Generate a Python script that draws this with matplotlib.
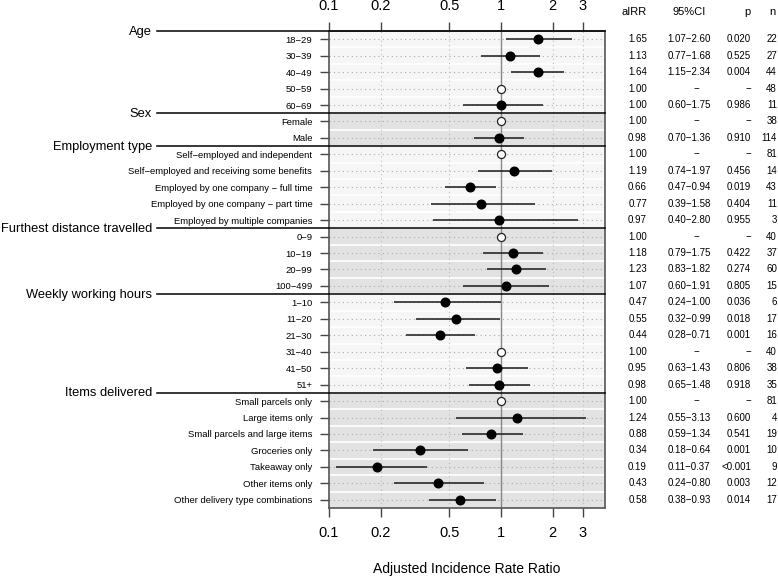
import numpy as np
import matplotlib
matplotlib.use('Agg')
import matplotlib.pyplot as plt
from matplotlib.transforms import blended_transform_factory
from matplotlib.lines import Line2D

plt.rcParams['font.family'] = ['Liberation Sans', 'DejaVu Sans']

groups = ['Age', 'Sex', 'Employment type', 'Furthest distance travelled',
          'Weekly working hours', 'Items delivered']
group_sizes = [5, 2, 5, 4, 6, 7]

row_labels = ['18\u221229', '30\u221239', '40\u221249', '50\u221259', '60\u221269',
              'Female', 'Male',
              'Self\u2212employed and independent',
              'Self\u2212employed and receiving some benefits',
              'Employed by one company \u2212 full time',
              'Employed by one company \u2212 part time',
              'Employed by multiple companies',
              '0\u22129', '10\u221219', '20\u221299', '100\u2212499',
              '1\u221210', '11\u221220', '21\u221230', '31\u221240', '41\u221250', '51+',
              'Small parcels only', 'Large items only', 'Small parcels and large items',
              'Groceries only', 'Takeaway only', 'Other items only',
              'Other delivery type combinations']

airr = [1.65, 1.13, 1.64, 1.00, 1.00,
        1.00, 0.98,
        1.00, 1.19, 0.66, 0.77, 0.97,
        1.00, 1.18, 1.23, 1.07,
        0.47, 0.55, 0.44, 1.00, 0.95, 0.98,
        1.00, 1.24, 0.88, 0.34, 0.19, 0.43, 0.58]
ci_low = [1.07, 0.77, 1.15, None, 0.60,
          None, 0.70,
          None, 0.74, 0.47, 0.39, 0.40,
          None, 0.79, 0.83, 0.60,
          0.24, 0.32, 0.28, None, 0.63, 0.65,
          None, 0.55, 0.59, 0.18, 0.11, 0.24, 0.38]
ci_high = [2.60, 1.68, 2.34, None, 1.75,
           None, 1.36,
           None, 1.97, 0.94, 1.58, 2.80,
           None, 1.75, 1.82, 1.91,
           1.00, 0.99, 0.71, None, 1.43, 1.48,
           None, 3.13, 1.34, 0.64, 0.37, 0.80, 0.93]
p_values = ['0.020', '0.525', '0.004', '\u2212', '0.986',
            '\u2212', '0.910',
            '\u2212', '0.456', '0.019', '0.404', '0.955',
            '\u2212', '0.422', '0.274', '0.805',
            '0.036', '0.018', '0.001', '\u2212', '0.806', '0.918',
            '\u2212', '0.600', '0.541', '0.001', '<0.001', '0.003', '0.014']
n_obs = [22, 27, 44, 48, 11,
         38, 114,
         81, 14, 43, 11, 3,
         40, 37, 60, 15,
         6, 17, 16, 40, 38, 35,
         81, 4, 19, 10, 9, 12, 17]

xticks = [0.1, 0.2, 0.5, 1, 2, 3]

W, H = 778, 577
fig = plt.figure(figsize=(W / 100, H / 100), dpi=100)
ax = fig.add_axes([329 / W, 1 - 508 / H, (605 - 329) / W, (508 - 31) / H])

nrow = len(row_labels)
y = np.arange(nrow)
ax.set_xscale('log')
ax.set_xlim(0.1, 4.03)
ax.set_ylim(nrow - 0.5, -0.5)

# group background bands
start = 0
starts = []
for gi, size in enumerate(group_sizes):
    starts.append(start)
    col = '#f6f6f6' if gi % 2 == 0 else '#e2e2e2'
    ax.axhspan(start - 0.5, start + size - 0.5, color=col, zorder=0, lw=0)
    start += size
for i in range(nrow - 1):
    ax.axhline(i + 0.5, color='white', lw=1.2, zorder=0.5)

# grid
for yi in y:
    ax.axhline(yi, color='#aaaaaa', lw=0.8, ls=(0, (1, 3)), zorder=1)
for xt in xticks[1:]:
    ax.axvline(xt, color='#bbbbbb', lw=0.8, ls=(0, (1, 3)), zorder=1)
ax.axvline(1, color='#888888', lw=1, zorder=2)

# estimates
for i in range(nrow):
    if ci_low[i] is None:
        ax.plot(airr[i], i, 'o', ms=5.8, mfc='white', mec='#222222', mew=0.9, zorder=4)
    else:
        ax.hlines(i, ci_low[i], ci_high[i], color='#2a2a2a', lw=1.2, zorder=3)
        ax.plot(airr[i], i, 'o', ms=6.2, color='black', zorder=4)

ax.set_xticks(xticks)
ax.set_xticklabels(['0.1', '0.2', '0.5', '1', '2', '3'])
ax.minorticks_off()
ax.tick_params(axis='x', which='both', top=True, labeltop=True, length=6.5,
               width=1, color='#444444', labelsize=10.5, pad=6.5)
ax.set_yticks(y)
ax.set_yticklabels(row_labels)
ax.tick_params(axis='y', length=6.5, width=1, color='#444444', labelsize=6.8, pad=5.5)
for s in ax.spines.values():
    s.set_color('#555555')
    s.set_linewidth(1.2)

ax.set_xlabel('Adjusted Incidence Rate Ratio', fontsize=10, labelpad=16)

# group headers with lines
tr = blended_transform_factory(fig.transFigure, ax.transData)
for gi, g in enumerate(groups):
    yb = starts[gi] - 0.5
    fig.text(152 / W, yb + 0.22, g, transform=tr, ha='right', va='baseline', fontsize=9.3)
    fig.add_artist(Line2D([157 / W, 605 / W], [yb, yb], transform=tr, color='black', lw=1.1))

# table
yh = -1.65
fig.text(647 / W, yh, 'aIRR', transform=tr, ha='right', va='center', fontsize=8)
fig.text(689 / W, yh, '95%CI', transform=tr, ha='center', va='center', fontsize=8)
fig.text(747 / W, yh, 'p', transform=tr, ha='center', va='center', fontsize=8)
fig.text(772 / W, yh, 'n', transform=tr, ha='center', va='center', fontsize=8)
for i in range(nrow):
    if ci_low[i] is None:
        ci_txt = '\u2212'
    else:
        ci_txt = '%.2f\u2212%.2f' % (ci_low[i], ci_high[i])
    fig.text(647 / W, i, '%.2f' % airr[i], transform=tr, ha='right', va='center', fontsize=7)
    fig.text(689 / W if ci_low[i] is not None else 696 / W, i, ci_txt, transform=tr,
             ha='center', va='center', fontsize=7)
    fig.text(751 / W, i, p_values[i], transform=tr, ha='right', va='center', fontsize=7)
    fig.text(777 / W, i, str(n_obs[i]), transform=tr, ha='right', va='center', fontsize=7)

fig.savefig('out.png', dpi=100)
